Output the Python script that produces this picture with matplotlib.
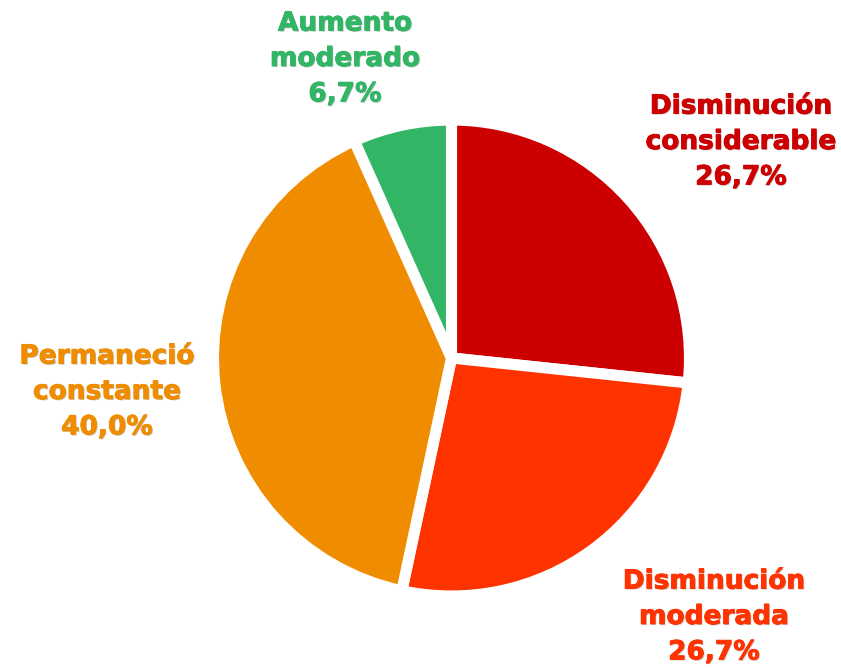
import matplotlib
matplotlib.use("Agg")
import matplotlib.pyplot as plt
import matplotlib.patheffects as pe

categories = ["Disminución\nconsiderable", "Disminución\nmoderada", "Permaneció\nconstante", "Aumento\nmoderado"]
values = [26.7, 26.7, 40.0, 6.7]
value_labels = ["26,7%", "26,7%", "40,0%", "6,7%"]
colors = ["#CC0000", "#FF3300", "#F08C00", "#33B566"]
label_pos = [(741, 142), (714, 617), (107, 392), (345, 59)]

W, H = 841, 668
fig = plt.figure(figsize=(W / 100, H / 100), dpi=100)
ax = fig.add_axes([0, 0, 1, 1])

ax.pie(values, colors=colors, startangle=90, counterclock=False,
       center=(451.5, H - 358), radius=238,
       wedgeprops=dict(edgecolor="white", linewidth=8, joinstyle="round"),
       frame=True)
ax.set_xlim(0, W)
ax.set_ylim(0, H)
ax.set_aspect("equal")
ax.axis("off")

for cat, vl, col, (x, y) in zip(categories, value_labels, colors, label_pos):
    ax.text(x, H - y, f"{cat}\n{vl}", color=col, ha="center", va="center",
            fontsize=19, fontweight="bold", family="DejaVu Sans",
            linespacing=1.47, multialignment="center",
            path_effects=[
                pe.withSimplePatchShadow(offset=(0.8, -0.8), shadow_rgbFace="black", alpha=0.2),
                pe.Stroke(linewidth=0.6, foreground=col),
                pe.Normal(),
            ])

fig.savefig("out.png", dpi=100)
